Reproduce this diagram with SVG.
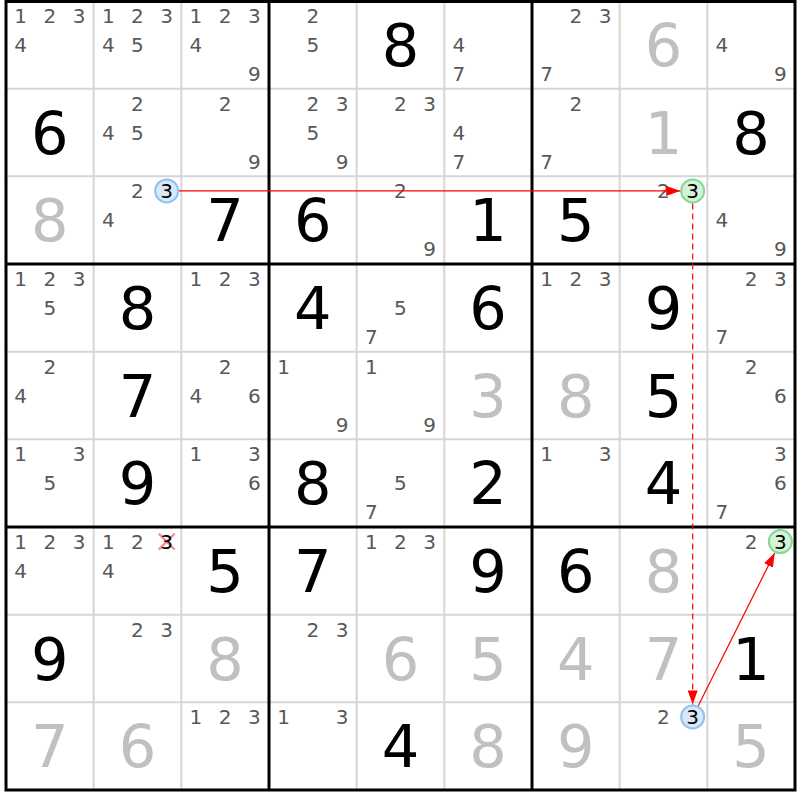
<svg xmlns="http://www.w3.org/2000/svg" width="800" height="800" viewBox="0 0 800 800">
<defs>
<style>
.c{font-family:"DejaVu Sans","Verdana",sans-serif;font-size:20px;fill:#585858;text-anchor:middle}
.g{font-family:"DejaVu Sans","Verdana",sans-serif;font-size:59px;fill:#000;text-anchor:middle}
.s{font-family:"DejaVu Sans","Verdana",sans-serif;font-size:59px;fill:#c0c0c0;text-anchor:middle}
.h{font-family:"DejaVu Sans","Verdana",sans-serif;font-size:20px;fill:#000;text-anchor:middle}
.thin{stroke:#d6d6d6;stroke-width:2}
.thick{stroke:#000;stroke-width:3}
.blue{fill:#d8e8f8;stroke:#8ec2f2;stroke-width:2}
.green{fill:#d4f2d8;stroke:#84d894;stroke-width:2}
.arr{stroke:#ff0000;stroke-width:1.2;fill:none}
</style>
<marker id="ah" viewBox="0 0 14 10" refX="14" refY="5" markerWidth="14" markerHeight="10" markerUnits="userSpaceOnUse" orient="auto">
<path d="M0,0 L14,5 L0,10 z" fill="#ff0000"/>
</marker>
</defs>
<rect x="0" y="0" width="800" height="800" fill="#fff"/>
<g id="gridlines">
<line class="thin" x1="93.67" y1="1" x2="93.67" y2="790"/>
<line class="thin" x1="181.33" y1="1" x2="181.33" y2="790"/>
<line class="thin" x1="356.67" y1="1" x2="356.67" y2="790"/>
<line class="thin" x1="444.33" y1="1" x2="444.33" y2="790"/>
<line class="thin" x1="619.67" y1="1" x2="619.67" y2="790"/>
<line class="thin" x1="707.33" y1="1" x2="707.33" y2="790"/>
<line class="thin" x1="6" y1="88.67" x2="795" y2="88.67"/>
<line class="thin" x1="6" y1="176.33" x2="795" y2="176.33"/>
<line class="thin" x1="6" y1="351.67" x2="795" y2="351.67"/>
<line class="thin" x1="6" y1="439.33" x2="795" y2="439.33"/>
<line class="thin" x1="6" y1="614.67" x2="795" y2="614.67"/>
<line class="thin" x1="6" y1="702.33" x2="795" y2="702.33"/>
<line class="thick" x1="269" y1="1" x2="269" y2="790"/>
<line class="thick" x1="532" y1="1" x2="532" y2="790"/>
<line class="thick" x1="6" y1="264" x2="795" y2="264"/>
<line class="thick" x1="6" y1="527" x2="795" y2="527"/>
<rect x="6" y="1.5" width="789" height="788.5" fill="none" stroke="#000" stroke-width="3"/>
</g>

<!-- Row 0 -->
<g id="r0c0" transform="translate(6,1)"><text class="c" x="14.6" y="21.9">1</text><text class="c" x="43.8" y="21.9">2</text><text class="c" x="73" y="21.9">3</text><text class="c" x="14.6" y="51.1">4</text></g>
<g id="r0c1" transform="translate(93.67,1)"><text class="c" x="14.6" y="21.9">1</text><text class="c" x="43.8" y="21.9">2</text><text class="c" x="73" y="21.9">3</text><text class="c" x="14.6" y="51.1">4</text><text class="c" x="43.8" y="51.1">5</text></g>
<g id="r0c2" transform="translate(181.33,1)"><text class="c" x="14.6" y="21.9">1</text><text class="c" x="43.8" y="21.9">2</text><text class="c" x="73" y="21.9">3</text><text class="c" x="14.6" y="51.1">4</text><text class="c" x="73" y="80">9</text></g>
<g id="r0c3" transform="translate(269,1)"><text class="c" x="43.8" y="21.9">2</text><text class="c" x="43.8" y="51.1">5</text></g>
<g id="r0c4" transform="translate(356.67,1)"><text class="g" x="43.8" y="65">8</text></g>
<g id="r0c5" transform="translate(444.33,1)"><text class="c" x="14.6" y="51.1">4</text><text class="c" x="14.6" y="80">7</text></g>
<g id="r0c6" transform="translate(532,1)"><text class="c" x="43.8" y="21.9">2</text><text class="c" x="73" y="21.9">3</text><text class="c" x="14.6" y="80">7</text></g>
<g id="r0c7" transform="translate(619.67,1)"><text class="s" x="43.8" y="65">6</text></g>
<g id="r0c8" transform="translate(707.33,1)"><text class="c" x="14.6" y="51.1">4</text><text class="c" x="73" y="80">9</text></g>

<!-- Row 1 -->
<g id="r1c0" transform="translate(6,88.67)"><text class="g" x="43.8" y="65">6</text></g>
<g id="r1c1" transform="translate(93.67,88.67)"><text class="c" x="43.8" y="21.9">2</text><text class="c" x="14.6" y="51.1">4</text><text class="c" x="43.8" y="51.1">5</text></g>
<g id="r1c2" transform="translate(181.33,88.67)"><text class="c" x="43.8" y="21.9">2</text><text class="c" x="73" y="80">9</text></g>
<g id="r1c3" transform="translate(269,88.67)"><text class="c" x="43.8" y="21.9">2</text><text class="c" x="73" y="21.9">3</text><text class="c" x="43.8" y="51.1">5</text><text class="c" x="73" y="80">9</text></g>
<g id="r1c4" transform="translate(356.67,88.67)"><text class="c" x="43.8" y="21.9">2</text><text class="c" x="73" y="21.9">3</text></g>
<g id="r1c5" transform="translate(444.33,88.67)"><text class="c" x="14.6" y="51.1">4</text><text class="c" x="14.6" y="80">7</text></g>
<g id="r1c6" transform="translate(532,88.67)"><text class="c" x="43.8" y="21.9">2</text><text class="c" x="14.6" y="80">7</text></g>
<g id="r1c7" transform="translate(619.67,88.67)"><text class="s" x="43.8" y="65">1</text></g>
<g id="r1c8" transform="translate(707.33,88.67)"><text class="g" x="43.8" y="65">8</text></g>

<!-- Row 2 -->
<g id="r2c0" transform="translate(6,176.33)"><text class="s" x="43.8" y="65">8</text></g>
<g id="r2c1" transform="translate(93.67,176.33)"><text class="c" x="43.8" y="21.9">2</text><circle class="blue" cx="73" cy="14.6" r="11.5"/><text class="h" x="73" y="21.9">3</text><text class="c" x="14.6" y="51.1">4</text></g>
<g id="r2c2" transform="translate(181.33,176.33)"><text class="g" x="43.8" y="65">7</text></g>
<g id="r2c3" transform="translate(269,176.33)"><text class="g" x="43.8" y="65">6</text></g>
<g id="r2c4" transform="translate(356.67,176.33)"><text class="c" x="43.8" y="21.9">2</text><text class="c" x="73" y="80">9</text></g>
<g id="r2c5" transform="translate(444.33,176.33)"><text class="g" x="43.8" y="65">1</text></g>
<g id="r2c6" transform="translate(532,176.33)"><text class="g" x="43.8" y="65">5</text></g>
<g id="r2c7" transform="translate(619.67,176.33)"><text class="c" x="43.8" y="21.9">2</text><circle class="green" cx="73" cy="14.6" r="11.5"/><text class="h" x="73" y="21.9">3</text></g>
<g id="r2c8" transform="translate(707.33,176.33)"><text class="c" x="14.6" y="51.1">4</text><text class="c" x="73" y="80">9</text></g>

<!-- Row 3 -->
<g id="r3c0" transform="translate(6,264)"><text class="c" x="14.6" y="21.9">1</text><text class="c" x="43.8" y="21.9">2</text><text class="c" x="73" y="21.9">3</text><text class="c" x="43.8" y="51.1">5</text></g>
<g id="r3c1" transform="translate(93.67,264)"><text class="g" x="43.8" y="65">8</text></g>
<g id="r3c2" transform="translate(181.33,264)"><text class="c" x="14.6" y="21.9">1</text><text class="c" x="43.8" y="21.9">2</text><text class="c" x="73" y="21.9">3</text></g>
<g id="r3c3" transform="translate(269,264)"><text class="g" x="43.8" y="65">4</text></g>
<g id="r3c4" transform="translate(356.67,264)"><text class="c" x="43.8" y="51.1">5</text><text class="c" x="14.6" y="80">7</text></g>
<g id="r3c5" transform="translate(444.33,264)"><text class="g" x="43.8" y="65">6</text></g>
<g id="r3c6" transform="translate(532,264)"><text class="c" x="14.6" y="21.9">1</text><text class="c" x="43.8" y="21.9">2</text><text class="c" x="73" y="21.9">3</text></g>
<g id="r3c7" transform="translate(619.67,264)"><text class="g" x="43.8" y="65">9</text></g>
<g id="r3c8" transform="translate(707.33,264)"><text class="c" x="43.8" y="21.9">2</text><text class="c" x="73" y="21.9">3</text><text class="c" x="14.6" y="80">7</text></g>

<!-- Row 4 -->
<g id="r4c0" transform="translate(6,351.67)"><text class="c" x="43.8" y="21.9">2</text><text class="c" x="14.6" y="51.1">4</text></g>
<g id="r4c1" transform="translate(93.67,351.67)"><text class="g" x="43.8" y="65">7</text></g>
<g id="r4c2" transform="translate(181.33,351.67)"><text class="c" x="43.8" y="21.9">2</text><text class="c" x="14.6" y="51.1">4</text><text class="c" x="73" y="51.1">6</text></g>
<g id="r4c3" transform="translate(269,351.67)"><text class="c" x="14.6" y="21.9">1</text><text class="c" x="73" y="80">9</text></g>
<g id="r4c4" transform="translate(356.67,351.67)"><text class="c" x="14.6" y="21.9">1</text><text class="c" x="73" y="80">9</text></g>
<g id="r4c5" transform="translate(444.33,351.67)"><text class="s" x="43.8" y="65">3</text></g>
<g id="r4c6" transform="translate(532,351.67)"><text class="s" x="43.8" y="65">8</text></g>
<g id="r4c7" transform="translate(619.67,351.67)"><text class="g" x="43.8" y="65">5</text></g>
<g id="r4c8" transform="translate(707.33,351.67)"><text class="c" x="43.8" y="21.9">2</text><text class="c" x="73" y="51.1">6</text></g>

<!-- Row 5 -->
<g id="r5c0" transform="translate(6,439.33)"><text class="c" x="14.6" y="21.9">1</text><text class="c" x="73" y="21.9">3</text><text class="c" x="43.8" y="51.1">5</text></g>
<g id="r5c1" transform="translate(93.67,439.33)"><text class="g" x="43.8" y="65">9</text></g>
<g id="r5c2" transform="translate(181.33,439.33)"><text class="c" x="14.6" y="21.9">1</text><text class="c" x="73" y="21.9">3</text><text class="c" x="73" y="51.1">6</text></g>
<g id="r5c3" transform="translate(269,439.33)"><text class="g" x="43.8" y="65">8</text></g>
<g id="r5c4" transform="translate(356.67,439.33)"><text class="c" x="43.8" y="51.1">5</text><text class="c" x="14.6" y="80">7</text></g>
<g id="r5c5" transform="translate(444.33,439.33)"><text class="g" x="43.8" y="65">2</text></g>
<g id="r5c6" transform="translate(532,439.33)"><text class="c" x="14.6" y="21.9">1</text><text class="c" x="73" y="21.9">3</text></g>
<g id="r5c7" transform="translate(619.67,439.33)"><text class="g" x="43.8" y="65">4</text></g>
<g id="r5c8" transform="translate(707.33,439.33)"><text class="c" x="73" y="21.9">3</text><text class="c" x="73" y="51.1">6</text><text class="c" x="14.6" y="80">7</text></g>

<!-- Row 6 -->
<g id="r6c0" transform="translate(6,527)"><text class="c" x="14.6" y="21.9">1</text><text class="c" x="43.8" y="21.9">2</text><text class="c" x="73" y="21.9">3</text><text class="c" x="14.6" y="51.1">4</text></g>
<g id="r6c1" transform="translate(93.67,527)"><text class="c" x="14.6" y="21.9">1</text><text class="c" x="43.8" y="21.9">2</text><path d="M65,6.6 L81,22.6 M81,6.6 L65,22.6" stroke="#f07a7a" stroke-width="2.5" stroke-opacity="0.8" fill="none"/><text class="h" x="73" y="21.9">3</text><text class="c" x="14.6" y="51.1">4</text></g>
<g id="r6c2" transform="translate(181.33,527)"><text class="g" x="43.8" y="65">5</text></g>
<g id="r6c3" transform="translate(269,527)"><text class="g" x="43.8" y="65">7</text></g>
<g id="r6c4" transform="translate(356.67,527)"><text class="c" x="14.6" y="21.9">1</text><text class="c" x="43.8" y="21.9">2</text><text class="c" x="73" y="21.9">3</text></g>
<g id="r6c5" transform="translate(444.33,527)"><text class="g" x="43.8" y="65">9</text></g>
<g id="r6c6" transform="translate(532,527)"><text class="g" x="43.8" y="65">6</text></g>
<g id="r6c7" transform="translate(619.67,527)"><text class="s" x="43.8" y="65">8</text></g>
<g id="r6c8" transform="translate(707.33,527)"><text class="c" x="43.8" y="21.9">2</text><circle class="green" cx="73" cy="14.6" r="11.5"/><text class="h" x="73" y="21.9">3</text></g>

<!-- Row 7 -->
<g id="r7c0" transform="translate(6,614.67)"><text class="g" x="43.8" y="65">9</text></g>
<g id="r7c1" transform="translate(93.67,614.67)"><text class="c" x="43.8" y="21.9">2</text><text class="c" x="73" y="21.9">3</text></g>
<g id="r7c2" transform="translate(181.33,614.67)"><text class="s" x="43.8" y="65">8</text></g>
<g id="r7c3" transform="translate(269,614.67)"><text class="c" x="43.8" y="21.9">2</text><text class="c" x="73" y="21.9">3</text></g>
<g id="r7c4" transform="translate(356.67,614.67)"><text class="s" x="43.8" y="65">6</text></g>
<g id="r7c5" transform="translate(444.33,614.67)"><text class="s" x="43.8" y="65">5</text></g>
<g id="r7c6" transform="translate(532,614.67)"><text class="s" x="43.8" y="65">4</text></g>
<g id="r7c7" transform="translate(619.67,614.67)"><text class="s" x="43.8" y="65">7</text></g>
<g id="r7c8" transform="translate(707.33,614.67)"><text class="g" x="43.8" y="65">1</text></g>

<!-- Row 8 -->
<g id="r8c0" transform="translate(6,702.33)"><text class="s" x="43.8" y="65">7</text></g>
<g id="r8c1" transform="translate(93.67,702.33)"><text class="s" x="43.8" y="65">6</text></g>
<g id="r8c2" transform="translate(181.33,702.33)"><text class="c" x="14.6" y="21.9">1</text><text class="c" x="43.8" y="21.9">2</text><text class="c" x="73" y="21.9">3</text></g>
<g id="r8c3" transform="translate(269,702.33)"><text class="c" x="14.6" y="21.9">1</text><text class="c" x="73" y="21.9">3</text></g>
<g id="r8c4" transform="translate(356.67,702.33)"><text class="g" x="43.8" y="65">4</text></g>
<g id="r8c5" transform="translate(444.33,702.33)"><text class="s" x="43.8" y="65">8</text></g>
<g id="r8c6" transform="translate(532,702.33)"><text class="s" x="43.8" y="65">9</text></g>
<g id="r8c7" transform="translate(619.67,702.33)"><text class="c" x="43.8" y="21.9">2</text><circle class="blue" cx="73" cy="14.6" r="11.5"/><text class="h" x="73" y="21.9">3</text></g>
<g id="r8c8" transform="translate(707.33,702.33)"><text class="s" x="43.8" y="65">5</text></g>

<g id="connectors">
<line class="arr" x1="179" y1="190.93" x2="680.2" y2="190.93" marker-end="url(#ah)"/>
<line class="arr" x1="692.67" y1="203.5" x2="692.67" y2="704.4" stroke-dasharray="6,4" stroke-width="1.6" marker-end="url(#ah)"/>
<line class="arr" x1="698.3" y1="705.7" x2="774.7" y2="552.9" marker-end="url(#ah)"/>
</g>
</svg>
